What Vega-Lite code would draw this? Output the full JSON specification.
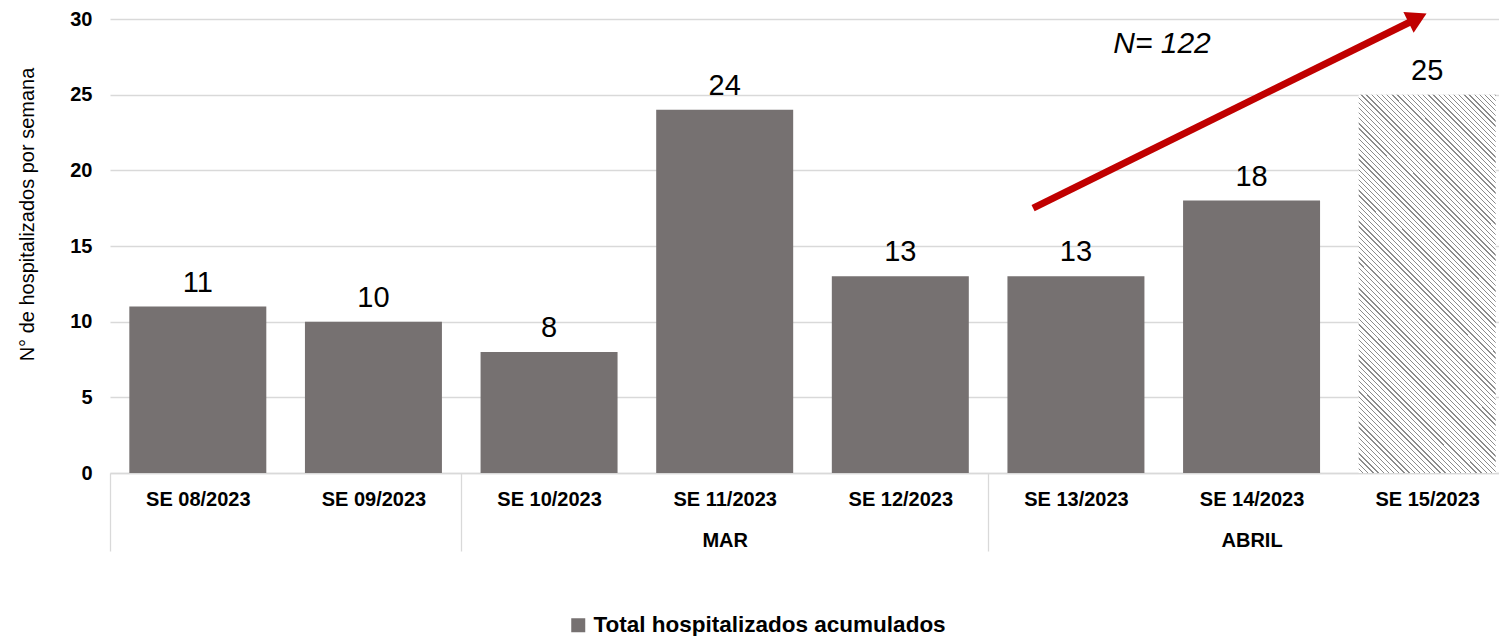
{
  "$schema": "https://vega.github.io/schema/vega-lite/v6.json",
  "width": 1389,
  "height": 454,
  "autosize": {"type": "none"},
  "padding": {"left": 110, "top": 19, "right": 0, "bottom": 163},
  "background": "#ffffff",
  "config": {"view": {"stroke": null}, "font": "Liberation Sans"},
  "datasets": {
    "semanas": [
      {"semana": "SE 08/2023", "mes": "FEB", "casos": 11, "tipo": "completa"},
      {"semana": "SE 09/2023", "mes": "FEB", "casos": 10, "tipo": "completa"},
      {"semana": "SE 10/2023", "mes": "MAR", "casos": 8, "tipo": "completa"},
      {"semana": "SE 11/2023", "mes": "MAR", "casos": 24, "tipo": "completa"},
      {"semana": "SE 12/2023", "mes": "MAR", "casos": 13, "tipo": "completa"},
      {"semana": "SE 13/2023", "mes": "ABRIL", "casos": 13, "tipo": "completa"},
      {"semana": "SE 14/2023", "mes": "ABRIL", "casos": 18, "tipo": "completa"},
      {"semana": "SE 15/2023", "mes": "ABRIL", "casos": 25, "tipo": "parcial"}
    ]
  },
  "layer": [
    {
      "data": {"name": "semanas"},
      "encoding": {
        "x": {
          "field": "semana",
          "type": "nominal",
          "sort": null,
          "scale": {
            "domain": ["SE 08/2023", "SE 09/2023", "SE 10/2023", "SE 11/2023", "SE 12/2023", "SE 13/2023", "SE 14/2023", "SE 15/2023"],
            "range": [0, 1405],
            "paddingInner": 0.22,
            "paddingOuter": 0.11
          },
          "axis": {
            "title": null,
            "bandPosition": 0,
            "tickOffset": -19.3,
            "labelOffset": 19.3,
            "ticks": true,
            "tickSize": 78,
            "tickWidth": 1.3,
            "tickColor": {"condition": {"test": "datum.value == 'SE 08/2023' || datum.value == 'SE 10/2023' || datum.value == 'SE 13/2023'", "value": "#d9d9d9"}, "value": "rgba(0,0,0,0)"},
            "domain": true,
            "domainColor": "#d9d9d9",
            "domainWidth": 1.5,
            "grid": false,
            "labelFont": "Liberation Sans",
            "labelFontSize": 20,
            "labelFontWeight": "bold",
            "labelColor": "#000000",
            "labelAngle": 0,
            "labelAlign": "center",
            "labelBaseline": "alphabetic",
            "labelPadding": -46,
            "labelLineHeight": 41,
            "labelOverlap": false,
            "labelBound": false,
            "labelFlush": false,
            "labelLimit": 0,
            "labelExpr": "datum.value == 'SE 11/2023' ? [datum.value, 'MAR'] : datum.value == 'SE 14/2023' ? [datum.value, 'ABRIL'] : datum.value"
          }
        },
        "y": {
          "field": "casos",
          "type": "quantitative",
          "scale": {"domain": [0, 30], "nice": false},
          "axis": {
            "title": "N° de hospitalizados por semana",
            "titleFont": "Liberation Sans",
            "titleFontSize": 20,
            "titleFontWeight": "normal",
            "titleColor": "#000000",
            "titleAngle": -90,
            "titleX": -83,
            "titleY": 195,
            "titleAlign": "center",
            "titleBaseline": "middle",
            "values": [0, 5, 10, 15, 20, 25, 30],
            "grid": true,
            "gridColor": "#d9d9d9",
            "gridWidth": 1.3,
            "domain": false,
            "ticks": false,
            "labelFont": "Liberation Sans",
            "labelFontSize": 20,
            "labelFontWeight": "bold",
            "labelColor": "#000000",
            "labelPadding": 18
          }
        }
      },
      "layer": [
        {
          "transform": [{"filter": "datum.tipo == 'completa'"}],
          "mark": {"type": "bar", "color": "#767171"},
          "encoding": {
            "color": {
              "datum": "Total hospitalizados acumulados",
              "type": "nominal",
              "scale": {"range": ["#767171"]},
              "legend": {
                "orient": "none",
                "legendX": 457,
                "legendY": 595,
                "title": null,
                "symbolType": "square",
                "symbolSize": 196,
                "symbolStrokeWidth": 0,
                "labelFont": "Liberation Sans",
                "labelFontSize": 22.5,
                "labelFontWeight": "bold",
                "labelColor": "#000000",
                "labelOffset": 4,
                "padding": 0,
                "labelLimit": 0
              }
            }
          }
        },
        {
          "transform": [{"filter": "datum.tipo == 'parcial'"}],
          "mark": {
            "type": "bar",
            "strokeWidth": 0,
            "fill": {
              "gradient": "linear",
              "x1": 1, "y1": 0, "x2": 0.5636, "y2": 1.2043,
              "stops": [
{"offset":0,"color":"#8c8c8c"},{"offset":0.0025,"color":"#8c8c8c"},{"offset":0.0025,"color":"#fff"},{"offset":0.01,"color":"#fff"},
{"offset":0.01,"color":"#8c8c8c"},{"offset":0.0125,"color":"#8c8c8c"},{"offset":0.0125,"color":"#fff"},{"offset":0.02,"color":"#fff"},
{"offset":0.02,"color":"#8c8c8c"},{"offset":0.0225,"color":"#8c8c8c"},{"offset":0.0225,"color":"#fff"},{"offset":0.03,"color":"#fff"},
{"offset":0.03,"color":"#8c8c8c"},{"offset":0.0325,"color":"#8c8c8c"},{"offset":0.0325,"color":"#fff"},{"offset":0.04,"color":"#fff"},
{"offset":0.04,"color":"#8c8c8c"},{"offset":0.0425,"color":"#8c8c8c"},{"offset":0.0425,"color":"#fff"},{"offset":0.05,"color":"#fff"},
{"offset":0.05,"color":"#8c8c8c"},{"offset":0.0525,"color":"#8c8c8c"},{"offset":0.0525,"color":"#fff"},{"offset":0.06,"color":"#fff"},
{"offset":0.06,"color":"#8c8c8c"},{"offset":0.0625,"color":"#8c8c8c"},{"offset":0.0625,"color":"#fff"},{"offset":0.07,"color":"#fff"},
{"offset":0.07,"color":"#8c8c8c"},{"offset":0.0725,"color":"#8c8c8c"},{"offset":0.0725,"color":"#fff"},{"offset":0.08,"color":"#fff"},
{"offset":0.08,"color":"#8c8c8c"},{"offset":0.0825,"color":"#8c8c8c"},{"offset":0.0825,"color":"#fff"},{"offset":0.09,"color":"#fff"},
{"offset":0.09,"color":"#8c8c8c"},{"offset":0.0925,"color":"#8c8c8c"},{"offset":0.0925,"color":"#fff"},{"offset":0.1,"color":"#fff"},
{"offset":0.1,"color":"#8c8c8c"},{"offset":0.1025,"color":"#8c8c8c"},{"offset":0.1025,"color":"#fff"},{"offset":0.11,"color":"#fff"},
{"offset":0.11,"color":"#8c8c8c"},{"offset":0.1125,"color":"#8c8c8c"},{"offset":0.1125,"color":"#fff"},{"offset":0.12,"color":"#fff"},
{"offset":0.12,"color":"#8c8c8c"},{"offset":0.1225,"color":"#8c8c8c"},{"offset":0.1225,"color":"#fff"},{"offset":0.13,"color":"#fff"},
{"offset":0.13,"color":"#8c8c8c"},{"offset":0.1325,"color":"#8c8c8c"},{"offset":0.1325,"color":"#fff"},{"offset":0.14,"color":"#fff"},
{"offset":0.14,"color":"#8c8c8c"},{"offset":0.1425,"color":"#8c8c8c"},{"offset":0.1425,"color":"#fff"},{"offset":0.15,"color":"#fff"},
{"offset":0.15,"color":"#8c8c8c"},{"offset":0.1525,"color":"#8c8c8c"},{"offset":0.1525,"color":"#fff"},{"offset":0.16,"color":"#fff"},
{"offset":0.16,"color":"#8c8c8c"},{"offset":0.1625,"color":"#8c8c8c"},{"offset":0.1625,"color":"#fff"},{"offset":0.17,"color":"#fff"},
{"offset":0.17,"color":"#8c8c8c"},{"offset":0.1725,"color":"#8c8c8c"},{"offset":0.1725,"color":"#fff"},{"offset":0.18,"color":"#fff"},
{"offset":0.18,"color":"#8c8c8c"},{"offset":0.1825,"color":"#8c8c8c"},{"offset":0.1825,"color":"#fff"},{"offset":0.19,"color":"#fff"},
{"offset":0.19,"color":"#8c8c8c"},{"offset":0.1925,"color":"#8c8c8c"},{"offset":0.1925,"color":"#fff"},{"offset":0.2,"color":"#fff"},
{"offset":0.2,"color":"#8c8c8c"},{"offset":0.2025,"color":"#8c8c8c"},{"offset":0.2025,"color":"#fff"},{"offset":0.21,"color":"#fff"},
{"offset":0.21,"color":"#8c8c8c"},{"offset":0.2125,"color":"#8c8c8c"},{"offset":0.2125,"color":"#fff"},{"offset":0.22,"color":"#fff"},
{"offset":0.22,"color":"#8c8c8c"},{"offset":0.2225,"color":"#8c8c8c"},{"offset":0.2225,"color":"#fff"},{"offset":0.23,"color":"#fff"},
{"offset":0.23,"color":"#8c8c8c"},{"offset":0.2325,"color":"#8c8c8c"},{"offset":0.2325,"color":"#fff"},{"offset":0.24,"color":"#fff"},
{"offset":0.24,"color":"#8c8c8c"},{"offset":0.2425,"color":"#8c8c8c"},{"offset":0.2425,"color":"#fff"},{"offset":0.25,"color":"#fff"},
{"offset":0.25,"color":"#8c8c8c"},{"offset":0.2525,"color":"#8c8c8c"},{"offset":0.2525,"color":"#fff"},{"offset":0.26,"color":"#fff"},
{"offset":0.26,"color":"#8c8c8c"},{"offset":0.2625,"color":"#8c8c8c"},{"offset":0.2625,"color":"#fff"},{"offset":0.27,"color":"#fff"},
{"offset":0.27,"color":"#8c8c8c"},{"offset":0.2725,"color":"#8c8c8c"},{"offset":0.2725,"color":"#fff"},{"offset":0.28,"color":"#fff"},
{"offset":0.28,"color":"#8c8c8c"},{"offset":0.2825,"color":"#8c8c8c"},{"offset":0.2825,"color":"#fff"},{"offset":0.29,"color":"#fff"},
{"offset":0.29,"color":"#8c8c8c"},{"offset":0.2925,"color":"#8c8c8c"},{"offset":0.2925,"color":"#fff"},{"offset":0.3,"color":"#fff"},
{"offset":0.3,"color":"#8c8c8c"},{"offset":0.3025,"color":"#8c8c8c"},{"offset":0.3025,"color":"#fff"},{"offset":0.31,"color":"#fff"},
{"offset":0.31,"color":"#8c8c8c"},{"offset":0.3125,"color":"#8c8c8c"},{"offset":0.3125,"color":"#fff"},{"offset":0.32,"color":"#fff"},
{"offset":0.32,"color":"#8c8c8c"},{"offset":0.3225,"color":"#8c8c8c"},{"offset":0.3225,"color":"#fff"},{"offset":0.33,"color":"#fff"},
{"offset":0.33,"color":"#8c8c8c"},{"offset":0.3325,"color":"#8c8c8c"},{"offset":0.3325,"color":"#fff"},{"offset":0.34,"color":"#fff"},
{"offset":0.34,"color":"#8c8c8c"},{"offset":0.3425,"color":"#8c8c8c"},{"offset":0.3425,"color":"#fff"},{"offset":0.35,"color":"#fff"},
{"offset":0.35,"color":"#8c8c8c"},{"offset":0.3525,"color":"#8c8c8c"},{"offset":0.3525,"color":"#fff"},{"offset":0.36,"color":"#fff"},
{"offset":0.36,"color":"#8c8c8c"},{"offset":0.3625,"color":"#8c8c8c"},{"offset":0.3625,"color":"#fff"},{"offset":0.37,"color":"#fff"},
{"offset":0.37,"color":"#8c8c8c"},{"offset":0.3725,"color":"#8c8c8c"},{"offset":0.3725,"color":"#fff"},{"offset":0.38,"color":"#fff"},
{"offset":0.38,"color":"#8c8c8c"},{"offset":0.3825,"color":"#8c8c8c"},{"offset":0.3825,"color":"#fff"},{"offset":0.39,"color":"#fff"},
{"offset":0.39,"color":"#8c8c8c"},{"offset":0.3925,"color":"#8c8c8c"},{"offset":0.3925,"color":"#fff"},{"offset":0.4,"color":"#fff"},
{"offset":0.4,"color":"#8c8c8c"},{"offset":0.4025,"color":"#8c8c8c"},{"offset":0.4025,"color":"#fff"},{"offset":0.41,"color":"#fff"},
{"offset":0.41,"color":"#8c8c8c"},{"offset":0.4125,"color":"#8c8c8c"},{"offset":0.4125,"color":"#fff"},{"offset":0.42,"color":"#fff"},
{"offset":0.42,"color":"#8c8c8c"},{"offset":0.4225,"color":"#8c8c8c"},{"offset":0.4225,"color":"#fff"},{"offset":0.43,"color":"#fff"},
{"offset":0.43,"color":"#8c8c8c"},{"offset":0.4325,"color":"#8c8c8c"},{"offset":0.4325,"color":"#fff"},{"offset":0.44,"color":"#fff"},
{"offset":0.44,"color":"#8c8c8c"},{"offset":0.4425,"color":"#8c8c8c"},{"offset":0.4425,"color":"#fff"},{"offset":0.45,"color":"#fff"},
{"offset":0.45,"color":"#8c8c8c"},{"offset":0.4525,"color":"#8c8c8c"},{"offset":0.4525,"color":"#fff"},{"offset":0.46,"color":"#fff"},
{"offset":0.46,"color":"#8c8c8c"},{"offset":0.4625,"color":"#8c8c8c"},{"offset":0.4625,"color":"#fff"},{"offset":0.47,"color":"#fff"},
{"offset":0.47,"color":"#8c8c8c"},{"offset":0.4725,"color":"#8c8c8c"},{"offset":0.4725,"color":"#fff"},{"offset":0.48,"color":"#fff"},
{"offset":0.48,"color":"#8c8c8c"},{"offset":0.4825,"color":"#8c8c8c"},{"offset":0.4825,"color":"#fff"},{"offset":0.49,"color":"#fff"},
{"offset":0.49,"color":"#8c8c8c"},{"offset":0.4925,"color":"#8c8c8c"},{"offset":0.4925,"color":"#fff"},{"offset":0.5,"color":"#fff"},
{"offset":0.5,"color":"#8c8c8c"},{"offset":0.5025,"color":"#8c8c8c"},{"offset":0.5025,"color":"#fff"},{"offset":0.51,"color":"#fff"},
{"offset":0.51,"color":"#8c8c8c"},{"offset":0.5125,"color":"#8c8c8c"},{"offset":0.5125,"color":"#fff"},{"offset":0.52,"color":"#fff"},
{"offset":0.52,"color":"#8c8c8c"},{"offset":0.5225,"color":"#8c8c8c"},{"offset":0.5225,"color":"#fff"},{"offset":0.53,"color":"#fff"},
{"offset":0.53,"color":"#8c8c8c"},{"offset":0.5325,"color":"#8c8c8c"},{"offset":0.5325,"color":"#fff"},{"offset":0.54,"color":"#fff"},
{"offset":0.54,"color":"#8c8c8c"},{"offset":0.5425,"color":"#8c8c8c"},{"offset":0.5425,"color":"#fff"},{"offset":0.55,"color":"#fff"},
{"offset":0.55,"color":"#8c8c8c"},{"offset":0.5525,"color":"#8c8c8c"},{"offset":0.5525,"color":"#fff"},{"offset":0.56,"color":"#fff"},
{"offset":0.56,"color":"#8c8c8c"},{"offset":0.5625,"color":"#8c8c8c"},{"offset":0.5625,"color":"#fff"},{"offset":0.57,"color":"#fff"},
{"offset":0.57,"color":"#8c8c8c"},{"offset":0.5725,"color":"#8c8c8c"},{"offset":0.5725,"color":"#fff"},{"offset":0.58,"color":"#fff"},
{"offset":0.58,"color":"#8c8c8c"},{"offset":0.5825,"color":"#8c8c8c"},{"offset":0.5825,"color":"#fff"},{"offset":0.59,"color":"#fff"},
{"offset":0.59,"color":"#8c8c8c"},{"offset":0.5925,"color":"#8c8c8c"},{"offset":0.5925,"color":"#fff"},{"offset":0.6,"color":"#fff"},
{"offset":0.6,"color":"#8c8c8c"},{"offset":0.6025,"color":"#8c8c8c"},{"offset":0.6025,"color":"#fff"},{"offset":0.61,"color":"#fff"},
{"offset":0.61,"color":"#8c8c8c"},{"offset":0.6125,"color":"#8c8c8c"},{"offset":0.6125,"color":"#fff"},{"offset":0.62,"color":"#fff"},
{"offset":0.62,"color":"#8c8c8c"},{"offset":0.6225,"color":"#8c8c8c"},{"offset":0.6225,"color":"#fff"},{"offset":0.63,"color":"#fff"},
{"offset":0.63,"color":"#8c8c8c"},{"offset":0.6325,"color":"#8c8c8c"},{"offset":0.6325,"color":"#fff"},{"offset":0.64,"color":"#fff"},
{"offset":0.64,"color":"#8c8c8c"},{"offset":0.6425,"color":"#8c8c8c"},{"offset":0.6425,"color":"#fff"},{"offset":0.65,"color":"#fff"},
{"offset":0.65,"color":"#8c8c8c"},{"offset":0.6525,"color":"#8c8c8c"},{"offset":0.6525,"color":"#fff"},{"offset":0.66,"color":"#fff"},
{"offset":0.66,"color":"#8c8c8c"},{"offset":0.6625,"color":"#8c8c8c"},{"offset":0.6625,"color":"#fff"},{"offset":0.67,"color":"#fff"},
{"offset":0.67,"color":"#8c8c8c"},{"offset":0.6725,"color":"#8c8c8c"},{"offset":0.6725,"color":"#fff"},{"offset":0.68,"color":"#fff"},
{"offset":0.68,"color":"#8c8c8c"},{"offset":0.6825,"color":"#8c8c8c"},{"offset":0.6825,"color":"#fff"},{"offset":0.69,"color":"#fff"},
{"offset":0.69,"color":"#8c8c8c"},{"offset":0.6925,"color":"#8c8c8c"},{"offset":0.6925,"color":"#fff"},{"offset":0.7,"color":"#fff"},
{"offset":0.7,"color":"#8c8c8c"},{"offset":0.7025,"color":"#8c8c8c"},{"offset":0.7025,"color":"#fff"},{"offset":0.71,"color":"#fff"},
{"offset":0.71,"color":"#8c8c8c"},{"offset":0.7125,"color":"#8c8c8c"},{"offset":0.7125,"color":"#fff"},{"offset":0.72,"color":"#fff"},
{"offset":0.72,"color":"#8c8c8c"},{"offset":0.7225,"color":"#8c8c8c"},{"offset":0.7225,"color":"#fff"},{"offset":0.73,"color":"#fff"},
{"offset":0.73,"color":"#8c8c8c"},{"offset":0.7325,"color":"#8c8c8c"},{"offset":0.7325,"color":"#fff"},{"offset":0.74,"color":"#fff"},
{"offset":0.74,"color":"#8c8c8c"},{"offset":0.7425,"color":"#8c8c8c"},{"offset":0.7425,"color":"#fff"},{"offset":0.75,"color":"#fff"},
{"offset":0.75,"color":"#8c8c8c"},{"offset":0.7525,"color":"#8c8c8c"},{"offset":0.7525,"color":"#fff"},{"offset":0.76,"color":"#fff"},
{"offset":0.76,"color":"#8c8c8c"},{"offset":0.7625,"color":"#8c8c8c"},{"offset":0.7625,"color":"#fff"},{"offset":0.77,"color":"#fff"},
{"offset":0.77,"color":"#8c8c8c"},{"offset":0.7725,"color":"#8c8c8c"},{"offset":0.7725,"color":"#fff"},{"offset":0.78,"color":"#fff"},
{"offset":0.78,"color":"#8c8c8c"},{"offset":0.7825,"color":"#8c8c8c"},{"offset":0.7825,"color":"#fff"},{"offset":0.79,"color":"#fff"},
{"offset":0.79,"color":"#8c8c8c"},{"offset":0.7925,"color":"#8c8c8c"},{"offset":0.7925,"color":"#fff"},{"offset":0.8,"color":"#fff"},
{"offset":0.8,"color":"#8c8c8c"},{"offset":0.8025,"color":"#8c8c8c"},{"offset":0.8025,"color":"#fff"},{"offset":0.81,"color":"#fff"},
{"offset":0.81,"color":"#8c8c8c"},{"offset":0.8125,"color":"#8c8c8c"},{"offset":0.8125,"color":"#fff"},{"offset":0.82,"color":"#fff"},
{"offset":0.82,"color":"#8c8c8c"},{"offset":0.8225,"color":"#8c8c8c"},{"offset":0.8225,"color":"#fff"},{"offset":0.83,"color":"#fff"},
{"offset":0.83,"color":"#8c8c8c"},{"offset":0.8325,"color":"#8c8c8c"},{"offset":0.8325,"color":"#fff"},{"offset":0.84,"color":"#fff"},
{"offset":0.84,"color":"#8c8c8c"},{"offset":0.8425,"color":"#8c8c8c"},{"offset":0.8425,"color":"#fff"},{"offset":0.85,"color":"#fff"},
{"offset":0.85,"color":"#8c8c8c"},{"offset":0.8525,"color":"#8c8c8c"},{"offset":0.8525,"color":"#fff"},{"offset":0.86,"color":"#fff"},
{"offset":0.86,"color":"#8c8c8c"},{"offset":0.8625,"color":"#8c8c8c"},{"offset":0.8625,"color":"#fff"},{"offset":0.87,"color":"#fff"},
{"offset":0.87,"color":"#8c8c8c"},{"offset":0.8725,"color":"#8c8c8c"},{"offset":0.8725,"color":"#fff"},{"offset":0.88,"color":"#fff"},
{"offset":0.88,"color":"#8c8c8c"},{"offset":0.8825,"color":"#8c8c8c"},{"offset":0.8825,"color":"#fff"},{"offset":0.89,"color":"#fff"},
{"offset":0.89,"color":"#8c8c8c"},{"offset":0.8925,"color":"#8c8c8c"},{"offset":0.8925,"color":"#fff"},{"offset":0.9,"color":"#fff"},
{"offset":0.9,"color":"#8c8c8c"},{"offset":0.9025,"color":"#8c8c8c"},{"offset":0.9025,"color":"#fff"},{"offset":0.91,"color":"#fff"},
{"offset":0.91,"color":"#8c8c8c"},{"offset":0.9125,"color":"#8c8c8c"},{"offset":0.9125,"color":"#fff"},{"offset":0.92,"color":"#fff"},
{"offset":0.92,"color":"#8c8c8c"},{"offset":0.9225,"color":"#8c8c8c"},{"offset":0.9225,"color":"#fff"},{"offset":0.93,"color":"#fff"},
{"offset":0.93,"color":"#8c8c8c"},{"offset":0.9325,"color":"#8c8c8c"},{"offset":0.9325,"color":"#fff"},{"offset":0.94,"color":"#fff"},
{"offset":0.94,"color":"#8c8c8c"},{"offset":0.9425,"color":"#8c8c8c"},{"offset":0.9425,"color":"#fff"},{"offset":0.95,"color":"#fff"},
{"offset":0.95,"color":"#8c8c8c"},{"offset":0.9525,"color":"#8c8c8c"},{"offset":0.9525,"color":"#fff"},{"offset":0.96,"color":"#fff"},
{"offset":0.96,"color":"#8c8c8c"},{"offset":0.9625,"color":"#8c8c8c"},{"offset":0.9625,"color":"#fff"},{"offset":0.97,"color":"#fff"},
{"offset":0.97,"color":"#8c8c8c"},{"offset":0.9725,"color":"#8c8c8c"},{"offset":0.9725,"color":"#fff"},{"offset":0.98,"color":"#fff"},
{"offset":0.98,"color":"#8c8c8c"},{"offset":0.9825,"color":"#8c8c8c"},{"offset":0.9825,"color":"#fff"},{"offset":0.99,"color":"#fff"},
{"offset":0.99,"color":"#8c8c8c"},{"offset":0.9925,"color":"#8c8c8c"},{"offset":0.9925,"color":"#fff"},{"offset":1,"color":"#fff"}
              ]
            }
          }
        },
        {
          "mark": {"type": "text", "font": "Liberation Sans", "fontSize": 29, "color": "#000000", "baseline": "alphabetic", "align": "center", "dy": -15},
          "encoding": {"text": {"field": "casos", "type": "quantitative"}}
        }
      ]
    },
    {
      "encoding": {
        "x": {"field": "x", "type": "quantitative", "scale": {"domain": [0, 8], "range": [0, 1405], "nice": false, "zero": false}, "axis": null},
        "y": {"field": "y", "type": "quantitative", "scale": {"domain": [0, 30], "nice": false}, "axis": null}
      },
      "layer": [
        {
          "data": {"values": [{"x": 5.256, "y": 17.51, "x2": 7.42, "y2": 29.9}]},
          "mark": {"type": "rule", "color": "#C00000", "strokeWidth": 7, "strokeCap": "butt"},
          "encoding": {"x2": {"field": "x2"}, "y2": {"field": "y2"}}
        },
        {
          "data": {"values": [{"x": 7.445, "y": 30.07}]},
          "mark": {"type": "point", "shape": "triangle-up", "filled": true, "color": "#C00000", "opacity": 1, "size": 540, "angle": 63.7, "strokeWidth": 0}
        },
        {
          "data": {"values": [{"x": 5.99, "y": 27.73, "texto": "N= 122"}]},
          "mark": {"type": "text", "font": "Liberation Sans", "fontSize": 30, "fontStyle": "italic", "color": "#000000", "align": "center", "baseline": "alphabetic"},
          "encoding": {"text": {"field": "texto", "type": "nominal"}}
        }
      ]
    }
  ],
  "resolve": {"scale": {"x": "independent"}, "axis": {"y": "independent"}}
}
